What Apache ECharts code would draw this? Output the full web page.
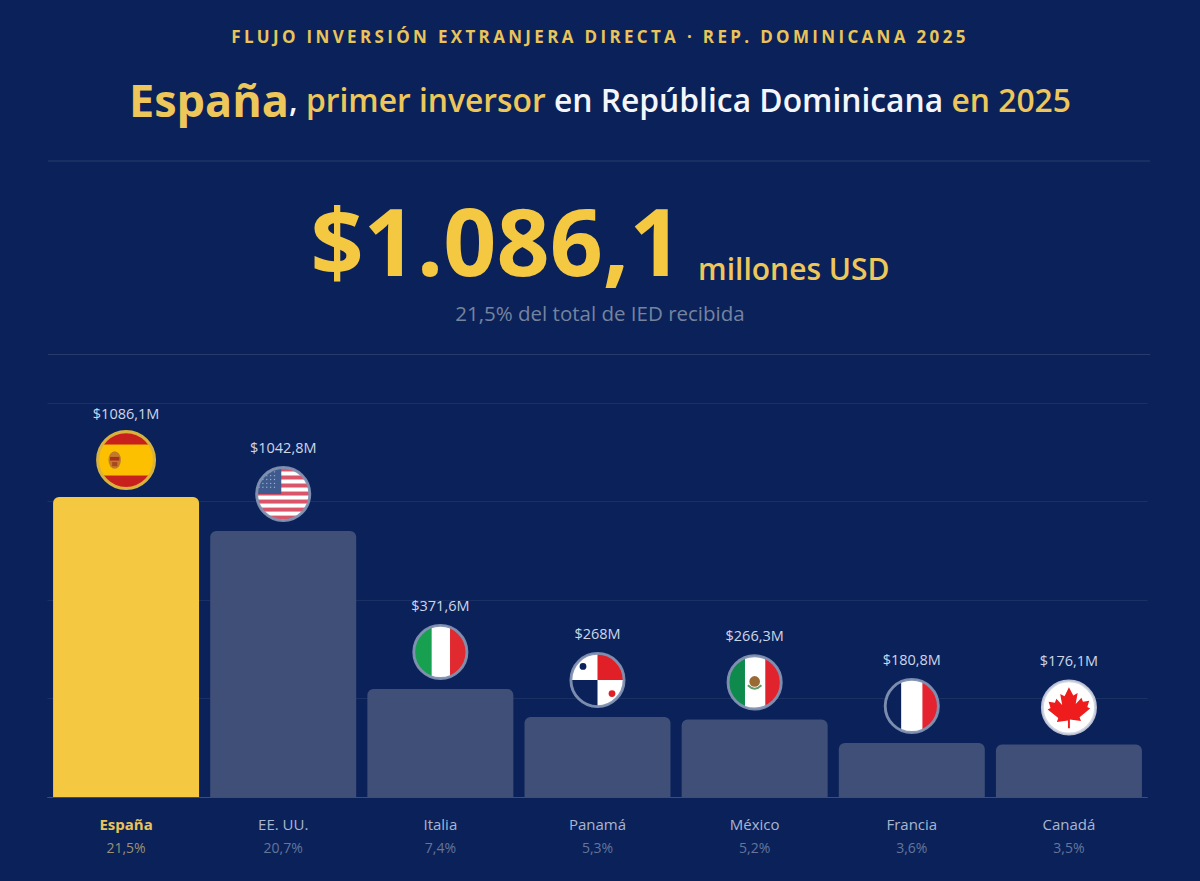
<!DOCTYPE html>
<html><head><meta charset="utf-8">
<style>html,body{margin:0;padding:0;background:#0a2259}#c{width:1200px;height:881px}</style>
<script src="https://cdn.jsdelivr.net/npm/echarts@6/dist/echarts.min.js"></script>
</head><body><div id="c"></div>
<script>
const categories = ['España','EE. UU.','Italia','Panamá','México','Francia','Canadá'];
// Printed amounts (the labels of the reference)
const amountLabels = ['$1086,1M','$1042,8M','$371,6M','$268M','$266,3M','$180,8M','$176,1M'];
const shareLabels = ['21,5%','20,7%','7,4%','5,3%','5,2%','3,6%','3,5%'];
const barHeights = [1005,891,362,268,260,181,176];
const FONT = '"Open Sans","Noto Sans",sans-serif';
const GOLD = '#f5c842', BG = '#0a2259', BAR = '#3f4f78';

function flag(body, ring){
  const svg = `<svg xmlns="http://www.w3.org/2000/svg" width="120" height="120" viewBox="0 0 120 120"><defs><clipPath id="k"><circle cx="60" cy="60" r="55"/></clipPath></defs><g clip-path="url(#k)">${body}</g><circle cx="60" cy="60" r="55" fill="none" stroke="${ring}" stroke-width="6"/></svg>`;
  return 'image://data:image/svg+xml;charset=utf-8,' + encodeURIComponent(svg);
}
const R = 'rgba(130,145,178,0.95)';
let stripes = '<rect width="120" height="120" fill="#fff"/>';
for (let i = 0; i < 7; i++) stripes += `<rect y="${5 + i * 16.6}" width="120" height="8.3" fill="#d9566a"/>`;
let stars = '';
for (let r = 0; r < 5; r++) for (let c = 0; c < 5; c++) stars += `<circle cx="${10 + c * 8}" cy="${14 + r * 8}" r="1.4" fill="#9fb0d0"/>`;
const leaf = 'M60 18l9 17 9-5-4 23 12-13 3 8 13-2-4 13 6 3-22 18 3 8-23-3v18h-4V87l-23 3 3-8-22-18 6-3-4-13 13 2 3-8 12 13-4-23 9 5z';
const flags = [
  flag('<rect width="120" height="120" fill="#c8201c"/><rect y="30" width="120" height="60" fill="#fcc000"/><ellipse cx="38" cy="60" rx="12" ry="17" fill="#c07a2a"/><rect x="29" y="54" width="18" height="7" fill="#a8301c"/><rect x="33" y="64" width="10" height="8" fill="#a8481c"/>', '#d9b23d'),
  flag(stripes + '<rect width="56" height="60" fill="#3f5a8c"/>' + stars, R),
  flag('<rect width="120" height="120" fill="#fff"/><rect width="42" height="120" fill="#16a050"/><rect x="80" width="40" height="120" fill="#e02a30"/>', R),
  flag('<rect width="120" height="120" fill="#fff"/><rect x="60" width="60" height="60" fill="#e01f26"/><rect y="60" width="60" height="60" fill="#0a2259"/><circle cx="30" cy="32" r="7" fill="#0a2259"/><circle cx="90" cy="88" r="7" fill="#e01f26"/>', R),
  flag('<rect width="120" height="120" fill="#fff"/><rect width="40" height="120" fill="#0f8a4d"/><rect x="82" width="38" height="120" fill="#e0232c"/><circle cx="60" cy="58" r="11" fill="#9a6a35"/><path d="M46 66q14 14 28 0" fill="none" stroke="#5f9a6a" stroke-width="4"/>', R),
  flag('<rect width="120" height="120" fill="#fff"/><rect width="38" height="120" fill="#0a2259"/><rect x="82" width="38" height="120" fill="#e42230"/>', R),
  flag(`<rect width="120" height="120" fill="#fff"/><path d="${leaf}" fill="#ee1c1c"/>`, 'rgba(205,210,225,0.9)')
];

const chart = echarts.init(document.getElementById('c'), null, {renderer:'svg', width:1200, height:881});
chart.on('finished', () => {
  document.querySelectorAll('#c text').forEach(t => {
    if (t.textContent.startsWith('FLUJO')) t.style.letterSpacing = '3.33px';
  });
});
chart.setOption({
  animation:false,
  backgroundColor:BG,
  title:[
    {text:'FLUJO INVERSIÓN EXTRANJERA DIRECTA · REP. DOMINICANA 2025', left:'center', top:23,
     textStyle:{fontFamily:FONT,fontSize:17,fontWeight:700,color:'#e9c45a'}},
    {text:'{a|España}{w|, }{g|primer inversor }{w|en República Dominicana }{g|en 2025}', left:'center', top:72,
     textStyle:{fontFamily:FONT,rich:{
       a:{fontFamily:FONT,fontSize:45,fontWeight:700,color:'#eec75a'},
       w:{fontFamily:FONT,fontSize:31.8,fontWeight:600,color:'#f4f6fb'},
       g:{fontFamily:FONT,fontSize:31.8,fontWeight:600,color:'#eec75a'}}}},
    {text:'{n|$1.086,1}{s|   }{m|millones USD}', left:'center', top:195,
     textStyle:{fontFamily:FONT,rich:{
       n:{fontFamily:FONT,fontSize:93,fontWeight:700,color:GOLD,lineHeight:80},
       s:{fontSize:20},
       m:{fontFamily:FONT,fontSize:30,fontWeight:600,color:'#eec75a',verticalAlign:'bottom',padding:[0,0,-3,0]}}}},
    {text:'21,5% del total de IED recibida', left:'center', top:297,
     textStyle:{fontFamily:FONT,fontSize:20.5,fontWeight:400,color:'#76839f'}}
  ],
  graphic:[
    {type:'line',shape:{x1:48,y1:161,x2:1150,y2:161},style:{stroke:'rgba(255,255,255,0.12)',lineWidth:1},silent:true},
    {type:'line',shape:{x1:48,y1:354.5,x2:1150,y2:354.5},style:{stroke:'rgba(255,255,255,0.12)',lineWidth:1},silent:true}
  ],
  grid:{left:47.5,right:52.5,top:403,bottom:84,containLabel:false},
  xAxis:{type:'category',data:categories,
    axisLine:{lineStyle:{color:'rgba(255,255,255,0.14)'}},axisTick:{show:false},
    axisLabel:{interval:0,margin:15,formatter:(v,i)=> i===0 ? `{ca|${v}}\n{pa|${shareLabels[i]}}` : `{cb|${v}}\n{pb|${shareLabels[i]}}`,
      rich:{
        ca:{fontFamily:FONT,fontSize:15,fontWeight:700,color:'#e9c45a',lineHeight:24},
        cb:{fontFamily:FONT,fontSize:15,fontWeight:400,color:'#aab6d0',lineHeight:24},
        pa:{fontFamily:FONT,fontSize:14,color:'#9b9273',lineHeight:22},
        pb:{fontFamily:FONT,fontSize:14,color:'#65759b',lineHeight:22}}}},
  yAxis:{type:'value',min:0,max:1320,interval:330,axisLabel:{show:false},axisLine:{show:false},axisTick:{show:false},
    splitLine:{lineStyle:{color:'rgba(255,255,255,0.07)'}}},
  series:[
    {type:'bar',barWidth:146,z:3,
     data:barHeights.map((v,i)=>({value:v,itemStyle:{color:i===0?GOLD:BAR,borderRadius:[6,6,0,0]}})),
     label:{show:true,position:'top',distance:76,fontFamily:FONT,fontSize:14.5,color:'#cdd6e8',
       formatter:p=>amountLabels[p.dataIndex]}},
    {type:'scatter',z:5,silent:true,symbolOffset:[0,-37],itemStyle:{opacity:1},
     data:barHeights.map((v,i)=>({value:[i,v],symbol:flags[i],symbolSize:i===0?62:58}))}
  ]
});
</script></body></html>
